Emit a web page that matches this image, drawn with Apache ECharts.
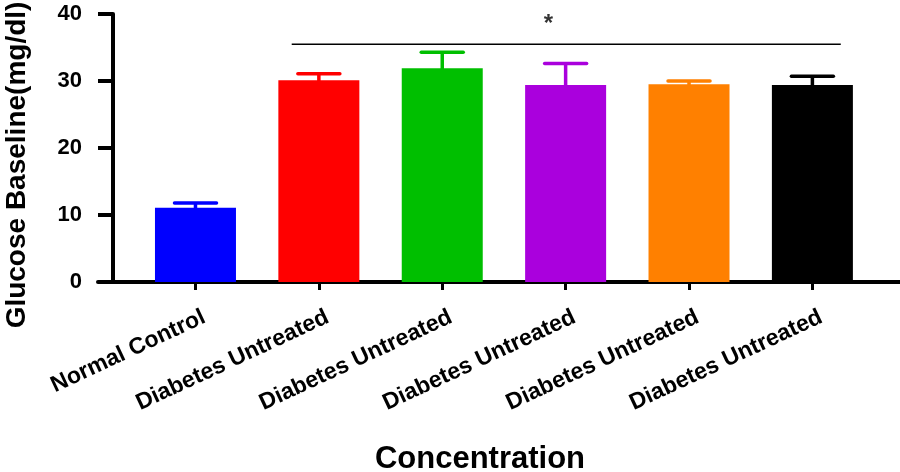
<!DOCTYPE html>
<html>
<head>
<meta charset="utf-8">
<script src="https://cdn.jsdelivr.net/npm/echarts@6/dist/echarts.min.js"></script>
<style>html,body{margin:0;padding:0;background:#fff}#c{width:900px;height:472px}</style>
</head>
<body>
<div id="c"></div>
<script>
var categories = ['Normal Control', 'Diabetes Untreated', 'Diabetes Untreated', 'Diabetes Untreated', 'Diabetes Untreated', 'Diabetes Untreated'];
var means = [11.1, 30.1, 31.9, 29.4, 29.5, 29.4];
var upperErr = [11.8, 31.1, 34.3, 32.6, 30.0, 30.7];
var barColors = ['#0000FF', '#FF0000', '#00BF00', '#AA00DD', '#FF8000', '#000000'];
var yTicks = [0, 10, 20, 30, 40];
var sigLineX = [0.78, 5.23];
var sigLineY = 35.5;
var sigStar = [2.86, 38.4];

var FONT = '"Liberation Sans", Arial, sans-serif';
var LABEL_SHIFT = 0.07;
var chart = echarts.init(document.getElementById('c'), null, {renderer: 'canvas'});

var catIdx = categories.map(function (c, i) { return i; });
var barData = means.map(function (v, i) {
  return {value: [i, v], itemStyle: {color: barColors[i]}};
});
var errData = means.map(function (v, i) { return [i, v, upperErr[i]]; });

chart.setOption({
  animation: false,
  backgroundColor: '#ffffff',
  grid: {left: 98, right: 0, top: 14, bottom: 190, containLabel: false, outerBoundsMode: 'none'},
  xAxis: {
    type: 'value',
    min: -0.79, max: 5.71,
    splitLine: {show: false},
    axisLine: {show: true, onZero: false, lineStyle: {color: '#000', width: 4}},
    axisTick: {show: true, customValues: catIdx, length: 8, lineStyle: {color: '#000', width: 3}},
    axisLabel: {
      customValues: catIdx.map(function (i) { return i + LABEL_SHIFT; }),
      formatter: function (v) { return categories[Math.round(v)]; },
      rotate: 25, margin: 34, color: '#000',
      fontFamily: FONT, fontWeight: 'bold', fontSize: 23
    },
    name: 'Concentration',
    nameLocation: 'middle',
    nameGap: 162,
    nameTextStyle: {fontFamily: FONT, fontWeight: 'bold', fontSize: 31, color: '#000', padding: [0, 38, 0, 0]}
  },
  yAxis: {
    type: 'value',
    min: 0, max: 40, interval: 10,
    offset: -15,
    splitLine: {show: false},
    axisLine: {show: true, onZero: false, lineStyle: {color: '#000', width: 4}},
    axisTick: {show: true, length: 15, lineStyle: {color: '#000', width: 4}},
    axisLabel: {
      customValues: yTicks,
      margin: 31, color: '#000', fontFamily: FONT, fontWeight: 'bold', fontSize: 22
    },
    name: 'Glucose Baseline(mg/dl)',
    nameLocation: 'middle',
    nameGap: 82,
    nameTextStyle: {fontFamily: FONT, fontWeight: 'bold', fontSize: 28, color: '#000', padding: [0, 34, 0, 0]}
  },
  series: [
    {
      type: 'bar',
      data: barData,
      barWidth: 81
    },
    {
      type: 'custom',
      data: errData,
      renderItem: function (params, api) {
        var i = api.value(0);
        var top = api.coord([i, api.value(2)]);
        var base = api.coord([i, api.value(1)]);
        var col = barColors[params.dataIndex];
        return {
          type: 'group',
          children: [
            {type: 'line', shape: {x1: top[0], y1: base[1] + 2, x2: top[0], y2: top[1]}, style: {stroke: col, lineWidth: 3.5}},
            {type: 'line', shape: {x1: top[0] - 21, y1: top[1], x2: top[0] + 21, y2: top[1]}, style: {stroke: col, lineWidth: 3.5, lineCap: 'round'}}
          ]
        };
      },
      z: 3
    },
    {
      type: 'line',
      data: [[sigLineX[0], sigLineY], [sigLineX[1], sigLineY]],
      symbol: 'none',
      lineStyle: {color: '#000', width: 1.5},
      z: 4
    },
    {
      type: 'scatter',
      data: [sigStar],
      symbolSize: 0,
      label: {show: true, position: 'inside', formatter: '*', color: '#000', fontFamily: FONT, fontWeight: 'bold', fontSize: 24},
      z: 4
    }
  ]
});
</script>
</body>
</html>
